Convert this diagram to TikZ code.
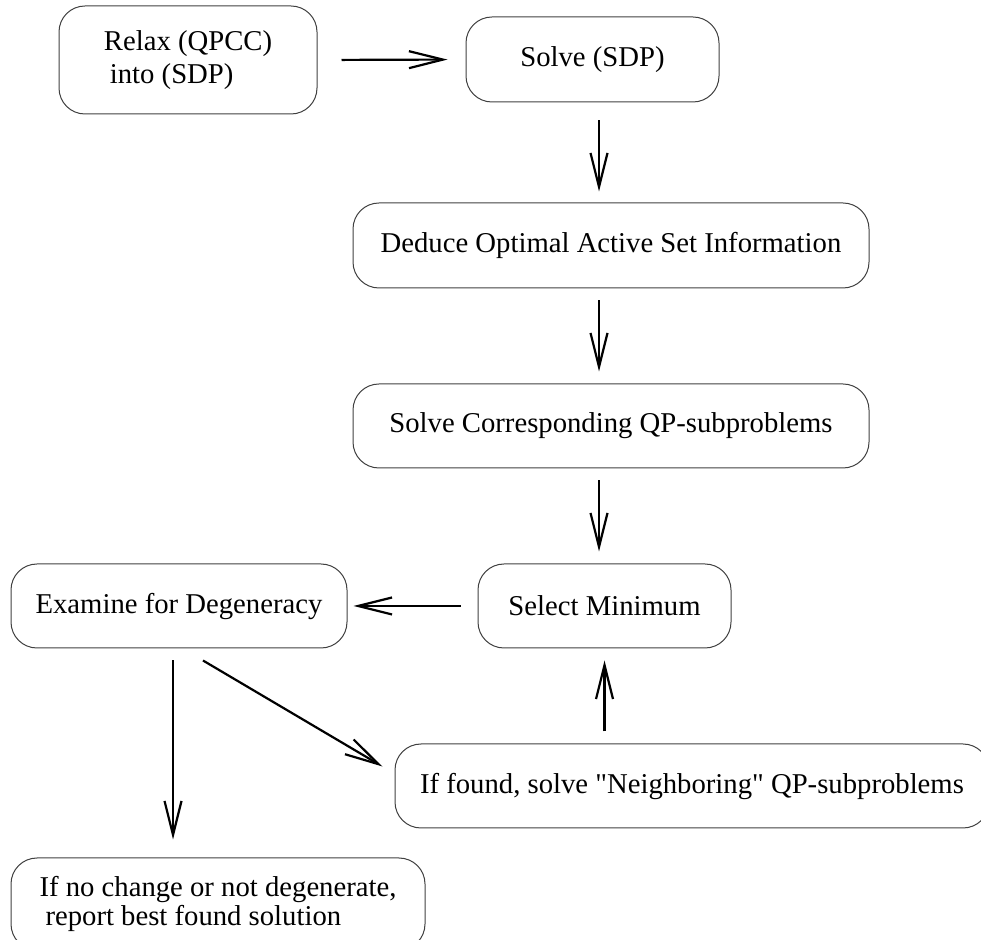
\documentclass[tikz,border=0pt]{standalone}
\usepackage{fontspec}
\setmainfont{Liberation Serif}
\usetikzlibrary{
  arrows.meta
  , calc
}
\tikzset{
  stage/.style={draw=black!75, line width=0.5pt, rounded corners=13pt,
    inner sep=0pt, font=\fontsize{14.35}{16}\selectfont},
  flow/.style={-{Straight Barb[length=17pt, width=8.5pt]}, line width=1.1pt, black},
}

\begin{document}
\begin{tikzpicture}[x=0.5pt, y=-0.5pt]
  \useasboundingbox (0,0) rectangle (981,940);

  \node [stage, minimum width=129pt, minimum height=54pt, align=left,
    font=\fontsize{14.35}{16.5}\selectfont] (relax) at (188,60)
    {Relax (QPCC)\\\hspace*{3pt}into (SDP)};
  \node [stage, minimum width=126.5pt, minimum height=42.5pt] (solve) at (592.5,59.5) {Solve (SDP)};
  \node [stage, minimum width=258pt, minimum height=42.5pt] (deduce) at (611,245.5) {Deduce Optimal Active Set Information};
  \node [stage, minimum width=258pt, minimum height=42pt] (corr) at (611,426) {Solve Corresponding QP-subproblems};
  \node [stage, minimum width=126.5pt, minimum height=42pt] (select) at (604.5,606) {Select Minimum};
  \node [stage, minimum width=168pt, minimum height=42pt] (examine) at (179,606) {Examine for Degeneracy};
  \node [stage, minimum width=297pt, minimum height=42pt] (neighbor) at (692,786)
    {If found, solve \textquotedbl Neighboring\textquotedbl\ QP-subproblems};
  \node [stage, minimum width=207pt, minimum height=46pt, align=left,
    font=\fontsize{14.35}{14.5}\selectfont] (final) at (218,904)
    {If no change or not degenerate,\\\hspace*{3pt}report best found solution};

  \coordinate (spine) at (599,0);
  \coordinate (drop) at (173,0);

  \draw[flow, shorten <=12pt, shorten >=9pt] (relax.east) -- (solve.west);
  \draw[flow, shorten <=9pt, shorten >=5.5pt] (solve.south -| spine) -- (deduce.north -| spine);
  \draw[flow, shorten <=6pt, shorten >=6pt] (deduce.south -| spine) -- (corr.north -| spine);
  \draw[flow, shorten <=6pt, shorten >=6pt] (corr.south -| spine) -- (select.north -| spine);
  \draw[flow, shorten <=8.5pt, shorten >=3pt] (select.west) -- (examine.east);
  \draw[flow, shorten <=6pt, shorten >=9pt] (examine.south -| drop) -- (final.north -| drop);
  \draw[flow] ([xshift=12pt, yshift=-6pt]examine.south) -- ([xshift=-6pt, yshift=-11.5pt]neighbor.north west);
  \draw[flow, shorten <=6pt, shorten >=6pt] (select.south |- neighbor.north) -- (select.south);
\end{tikzpicture}
\end{document}
